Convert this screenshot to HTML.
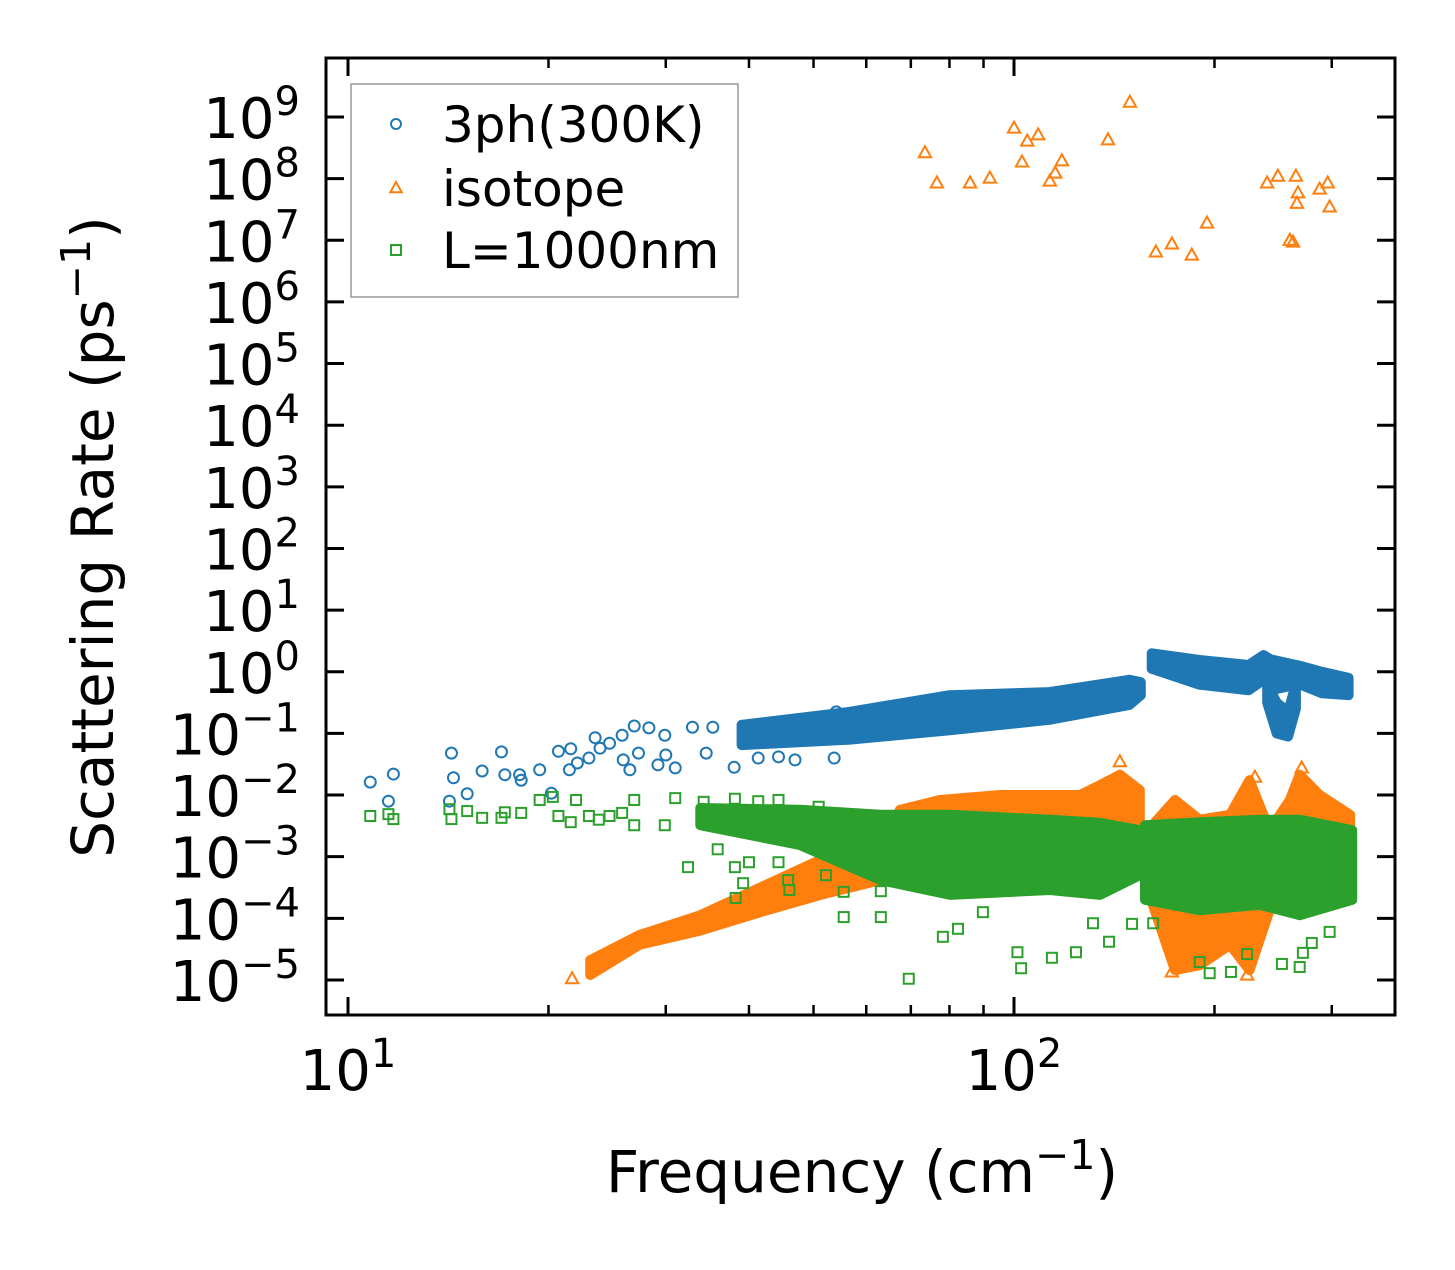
<!DOCTYPE html>
<html><head><meta charset="utf-8"><style>
body{margin:0;background:#fff}
svg text{font-family:"DejaVu Sans","Liberation Sans",sans-serif;fill:#000}
</style></head><body>
<svg id="chart" width="1455" height="1265" viewBox="0 0 1455 1265" xmlns="http://www.w3.org/2000/svg">
<rect width="1455" height="1265" fill="#fff"/>
<g id="bands"></g>
<g id="marks"></g>
<g id="axes"></g>
</svg>
<script>
// ---- data (frequency in cm^-1, log10 of scattering rate in ps^-1) ----
const xTickValues = [10, 100];
const xTickExps = ["1", "2"];
const xMinorValues = [20,30,40,50,60,70,80,90,200,300];
const yTickExps = [-5,-4,-3,-2,-1,0,1,2,3,4,5,6,7,8,9];

const phFreq = [10.8,11.7,11.5,14.3,14.4,14.2,15.1,15.9,17.0,17.2,18.1,18.2,19.4,20.2,20.7,21.6,21.5,22.1,23.0,23.5,23.9,24.7,25.8,25.9,26.5,26.9,28.3,27.3,29.2,29.9,30.0,31.0,32.9,35.3,34.5,38.0,41.3,44.3,46.9,53.7,54.1];
const phRate = [-1.79,-1.66,-2.10,-1.32,-1.72,-2.10,-1.98,-1.61,-1.30,-1.67,-1.67,-1.76,-1.59,-1.97,-1.29,-1.25,-1.59,-1.48,-1.40,-1.07,-1.24,-1.16,-1.03,-1.43,-1.59,-0.88,-0.91,-1.32,-1.51,-1.03,-1.35,-1.56,-0.90,-0.90,-1.32,-1.55,-1.40,-1.38,-1.43,-1.40,-0.65];
const phBand1Freq = [39,56.7,80,113,149,155];
const phBand1Lo = [-1.19,-1.1,-0.95,-0.78,-0.54,-0.38];
const phBand1Hi = [-0.86,-0.65,-0.38,-0.33,-0.13,-0.17];
const phBand2Freq = [161,190,225,237,243,268,290,318];
const phBand2Lo = [0.05,-0.21,-0.3,-0.13,-0.3,-0.2,-0.35,-0.38];
const phBand2Hi = [0.3,0.19,0.11,0.27,0.2,0.1,0.0,-0.1];
const phBand3Freq = [240,248,258,265];
const phBand3Lo = [-0.5,-1.0,-1.05,-0.6];
const phBand3Hi = [-0.2,-0.5,-0.65,-0.2];

const isoFreq = [73.5,76.6,85.9,92,100,102.8,104.7,108.7,113.2,115.3,118,138.4,149.3,163.3,172.6,184.9,194.9,239.9,249,259.5,262.4,265,266,266.9,287.7,295.8,297.8,144.2,230,270.4,21.7,223.9,172.6];
const isoRate = [8.42,7.93,7.93,8.01,8.82,8.27,8.61,8.71,7.96,8.09,8.29,8.63,9.24,6.81,6.94,6.76,7.28,7.93,8.04,7.0,6.97,8.04,7.6,7.77,7.83,7.93,7.54,-1.46,-1.71,-1.56,-4.98,-4.92,-4.87];
const isoBand1Freq = [23.1,27.4,33.8,41.6,51.2,63];
const isoBand1Lo = [-4.92,-4.43,-4.2,-3.9,-3.62,-3.38];
const isoBand1Hi = [-4.68,-4.27,-3.95,-3.5,-3.05,-2.89];
const isoBand2Freq = [63,67.4,77.4,95.3,125.6,134.6,144.2,154.5];
const isoBand2Lo = [-3.38,-3.38,-3.4,-3.4,-3.4,-3.4,-3.35,-3.3];
const isoBand2Hi = [-2.89,-2.24,-2.08,-2.0,-2.0,-1.84,-1.67,-1.92];
const isoBand3Freq = [158.9,174.5,190,211,225.7,242,259.5,268.5,287.7,319.6];
const isoBand3Lo = [-3.54,-4.84,-4.76,-4.43,-4.84,-3.87,-3.70,-3.54,-3.38,-3.38];
const isoBand3Hi = [-2.57,-2.08,-2.40,-2.32,-1.76,-2.57,-2.08,-1.67,-2.0,-2.32];

const bFreq = [10.8,11.5,11.7,14.2,14.3,15.1,15.9,17.0,17.2,18.2,19.4,20.3,20.7,21.6,22.0,23.0,23.8,24.7,25.8,26.9,26.9,31.0,29.9,34.2,32.4,35.9,38.1,38.1,41.3,40.0,39.2,38.2,44.3,44.3,45.8,46.0,52.2,55.5,55.5,50.9,63.1,63.1,69.5,78.2,82.4,89.8,102.5,101.2,114,123.9,131.4,138.9,150.4,196.7,211.7,223.9,252.5,268.5,271.5,280,297.8,190,161.8];
const bRate = [-2.34,-2.31,-2.39,-2.23,-2.39,-2.26,-2.37,-2.37,-2.28,-2.29,-2.08,-2.03,-2.34,-2.44,-2.08,-2.34,-2.40,-2.34,-2.29,-2.08,-2.49,-2.05,-2.49,-2.11,-3.17,-2.88,-2.06,-3.17,-2.10,-3.09,-3.43,-3.67,-2.08,-3.09,-3.38,-3.54,-3.30,-3.57,-3.98,-2.19,-3.56,-3.98,-4.98,-4.30,-4.17,-3.90,-4.81,-4.55,-4.64,-4.55,-4.08,-4.38,-4.09,-4.89,-4.87,-4.58,-4.74,-4.79,-4.56,-4.40,-4.22,-4.71,-4.08];
const bBand1Freq = [33.8,47.7,63.0,80.2,113.2,134.6,154.5];
const bBand1Lo = [-2.49,-2.81,-3.38,-3.62,-3.54,-3.62,-3.30];
const bBand1Hi = [-2.21,-2.24,-2.32,-2.32,-2.40,-2.45,-2.57];
const bBand2Freq = [157.3,190,233.8,268.5,322];
const bBand2Lo = [-3.70,-3.87,-3.78,-3.95,-3.70];
const bBand2Hi = [-2.49,-2.44,-2.40,-2.40,-2.57];

// ---- axes ----
const L=326,R=1395,T=58,B=1015;
function X(f){return 348+666*(Math.log10(f)-1);}
function Y(e){return 117+(9-e)*61.64;}
const NS='http://www.w3.org/2000/svg';
function mk(tag,attrs,parent){const el=document.createElementNS(NS,tag);for(const k in attrs)el.setAttribute(k,attrs[k]);parent.appendChild(el);return el;}
const C={b:'#1f77b4',o:'#ff7f0e',g:'#2ca02c'};
const bands=document.getElementById('bands'), marks=document.getElementById('marks'), axes=document.getElementById('axes');

function band(fr,lo,hi,col,name,parent){
  let pts=fr.map((f,i)=>X(f).toFixed(1)+','+Y(hi[i]).toFixed(1));
  for(let i=fr.length-1;i>=0;i--)pts.push(X(fr[i]).toFixed(1)+','+Y(lo[i]).toFixed(1));
  const p=mk('polygon',{points:pts.join(' '),fill:col,stroke:col,'stroke-width':10,'stroke-linejoin':'round'},parent);
  
  
}
function circle(cx,cy,parent){return mk('circle',{cx:cx,cy:cy,r:5.5,fill:'none',stroke:C.b,'stroke-width':2},parent);}
function tri(cx,cy,parent,s){s=s||6.5;return mk('polygon',{points:`${cx},${cy-s} ${cx-s*0.95},${cy+s*0.7} ${cx+s*0.95},${cy+s*0.7}`,fill:'none',stroke:C.o,'stroke-width':2},parent);}
function sq(cx,cy,parent,s){s=s||5;return mk('rect',{x:cx-s,y:cy-s,width:2*s,height:2*s,fill:'none',stroke:C.g,'stroke-width':2},parent);}

band(phBand1Freq,phBand1Lo,phBand1Hi,C.b,'3ph-dense-band-low',marks);
band(phBand2Freq,phBand2Lo,phBand2Hi,C.b,'3ph-dense-band-high',marks);
band(phBand3Freq,phBand3Lo,phBand3Hi,C.b,'3ph-dense-band-dip',marks);
phFreq.forEach((f,i)=>{const el=circle(X(f),Y(phRate[i]),marks);

});
band(isoBand1Freq,isoBand1Lo,isoBand1Hi,C.o,'isotope-dense-band-ramp',marks);
band(isoBand2Freq,isoBand2Lo,isoBand2Hi,C.o,'isotope-dense-band-mid',marks);
band(isoBand3Freq,isoBand3Lo,isoBand3Hi,C.o,'isotope-dense-band-high',marks);
isoFreq.forEach((f,i)=>{const el=tri(X(f),Y(isoRate[i]),marks);

});
band(bBand1Freq,bBand1Lo,bBand1Hi,C.g,'boundary-dense-band-low',marks);
band(bBand2Freq,bBand2Lo,bBand2Hi,C.g,'boundary-dense-band-high',marks);
bFreq.forEach((f,i)=>{const el=sq(X(f),Y(bRate[i]),marks);

});

const fr=mk('rect',{x:L,y:T,width:R-L,height:B-T,fill:'none',stroke:'#000','stroke-width':3},axes);


xTickValues.forEach((v,i)=>{const x=X(v);
 mk('line',{x1:x,y1:B,x2:x,y2:B-18,stroke:'#000','stroke-width':3},axes);
 mk('line',{x1:x,y1:T,x2:x,y2:T+18,stroke:'#000','stroke-width':3},axes);
 const t=mk('text',{x:x,y:1090,'font-size':56,'text-anchor':'middle'},axes);
 t.innerHTML='10<tspan dy="-23" font-size="40">'+xTickExps[i]+'</tspan>';
 
 
});
xMinorValues.forEach(v=>{const x=X(v);
 mk('line',{x1:x,y1:B,x2:x,y2:B-10,stroke:'#000','stroke-width':2.5},axes);
 mk('line',{x1:x,y1:T,x2:x,y2:T+10,stroke:'#000','stroke-width':2.5},axes);
});
yTickExps.forEach(e=>{const y=Y(e);
 mk('line',{x1:L,y1:y,x2:L+18,y2:y,stroke:'#000','stroke-width':3},axes);
 mk('line',{x1:R,y1:y,x2:R-18,y2:y,stroke:'#000','stroke-width':3},axes);
 const t=mk('text',{x:300,y:y+21,'font-size':56,'text-anchor':'end'},axes);
 const ex=e<0?'\u2212'+(-e):String(e);
 t.innerHTML='10<tspan dy="-23" font-size="40">'+ex+'</tspan>';
 
 
});
const xt=mk('text',{x:862,y:1192,'font-size':58,'text-anchor':'middle'},axes);
xt.innerHTML='Frequency (cm<tspan dy="-23" font-size="41">\u22121</tspan><tspan dy="23">)</tspan>';


const yt=mk('text',{x:0,y:0,'font-size':58,'text-anchor':'middle',transform:'translate(113,537) rotate(-90)'},axes);
yt.innerHTML='Scattering Rate (ps<tspan dy="-23" font-size="41">\u22121</tspan><tspan dy="23">)</tspan>';


const lg=mk('g',{},axes);


mk('rect',{x:351,y:84,width:387,height:213,fill:'#fff',stroke:'#999','stroke-width':1.5},lg);
const lab=['3ph(300K)','isotope','L=1000nm'];const ly=[124,188,250];
mk('circle',{cx:396,cy:ly[0],r:5,fill:'none',stroke:C.b,'stroke-width':2},lg);
tri(396,ly[1],lg,6);sq(396,ly[2],lg,5);
lab.forEach((s,i)=>{const t=mk('text',{x:442,y:ly[i]+18,'font-size':50},lg);t.textContent=s;
 
 });
</script>
</body></html>
